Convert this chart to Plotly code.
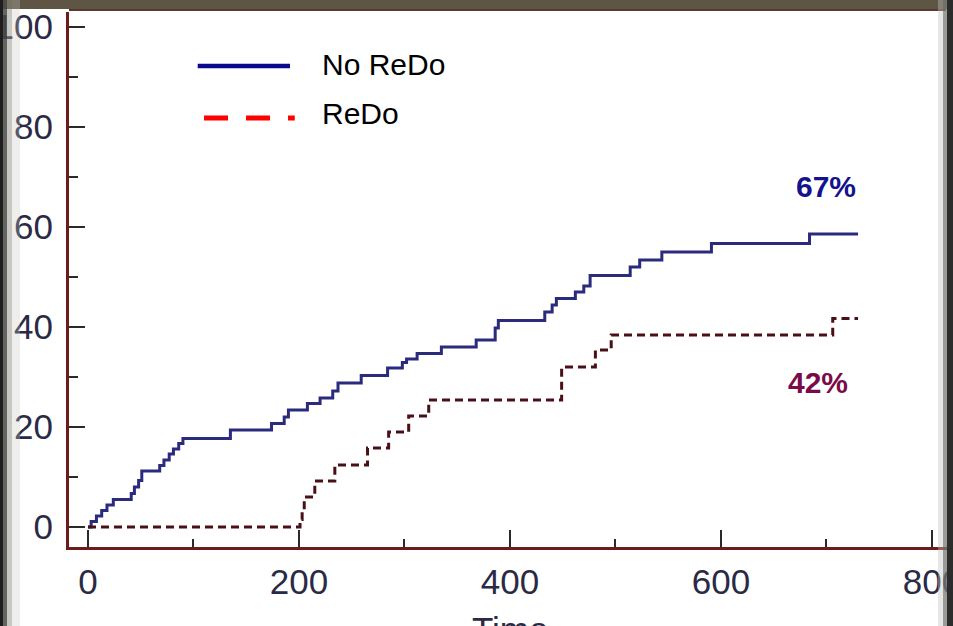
import plotly.graph_objects as go

# Cumulative incidence (%) over time, step data per group
no_redo_time = [0, 3, 8, 13, 18, 24, 41, 44, 48, 51, 68, 72, 77, 81, 86, 90, 135, 174,
                186, 190, 208, 220, 232, 237, 259, 284, 298, 302, 312, 335, 368, 386,
                389, 433, 440, 444, 462, 470, 476, 514, 523, 544, 591, 684, 730]
no_redo_pct = [0, 1.1, 2.2, 3.3, 4.4, 5.5, 6.7, 8.0, 9.3, 11.2, 12.3, 13.4, 14.6, 15.6,
               16.7, 17.7, 19.4, 20.7, 22.0, 23.4, 24.7, 25.8, 27.2, 28.8, 30.3, 31.8,
               32.9, 33.6, 34.7, 36.0, 37.4, 39.8, 41.3, 43.0, 44.4, 45.7, 47.0, 48.2,
               50.3, 52.0, 53.4, 55.0, 56.7, 58.6, 58.6]

redo_time = [0, 201, 203, 205, 215, 234, 265, 285, 304, 323, 449, 481, 496, 706, 730]
redo_pct = [0, 1.5, 3.2, 6.0, 9.2, 12.4, 15.8, 19.0, 22.2, 25.4, 32.0, 35.4, 38.4, 41.7, 41.7]

series_names = ["No ReDo", "ReDo"]
end_labels = ["67%", "42%"]
x_ticks = [0, 200, 400, 600, 800]
y_ticks = [0, 20, 40, 60, 80, 100]
x_title = "Time"

BLUE_LINE = "#2b2b7e"
RED_LINE = "#4a1018"
AXIS = "#6e1b1b"
TICK_TEXT = "#2a2a46"

fig = go.Figure()
fig.add_trace(go.Scatter(
    x=no_redo_time, y=no_redo_pct, mode="lines", line_shape="hv",
    line=dict(color=BLUE_LINE, width=3), name=series_names[0], showlegend=False))
fig.add_trace(go.Scatter(
    x=redo_time, y=redo_pct, mode="lines", line_shape="hv",
    line=dict(color=RED_LINE, width=3, dash="8px,5px"), name=series_names[1],
    showlegend=False))

# page geometry (pixels) used for the frame decorations
W, H = 953, 626
ML, MR, MT, MB = 69, 0, 12, 79
PW, PH = W - ML - MR, H - MT - MB


def px(x):
    return (x - ML) / PW


def py(y):
    return 1 - (y - MT) / PH


shapes = []
# hand-drawn legend keys
shapes.append(dict(type="line", xref="x", yref="y", x0=104, x1=191.5, y0=92.2, y1=92.2,
                   line=dict(color="#0a0a8c", width=4.5)))
shapes.append(dict(type="line", xref="x", yref="y", x0=110, x1=196, y0=81.8, y1=81.8,
                   line=dict(color="#ff0000", width=5, dash="24px,18px")))
# surrounding frame
shapes.append(dict(type="line", xref="paper", yref="paper", x0=0, x1=px(946),
                   y0=py(10), y1=py(10), line=dict(color="#5a3a30", width=2), layer="above"))
shapes.append(dict(type="rect", xref="paper", yref="paper", x0=px(0), x1=px(W),
                   y0=py(0), y1=py(9), fillcolor="#5e5545", line_width=0, layer="above"))
for x0, x1, col, op in [(0, 3, "#1e1e1e", 1.0), (3, 7, "#4a4a44", 0.85),
                        (7, 12, "#8d8d85", 0.5), (12, 20, "#c8c8c0", 0.3)]:
    shapes.append(dict(type="rect", xref="paper", yref="paper", x0=px(x0), x1=px(x1),
                       y0=py(H), y1=py(0), fillcolor=col, opacity=op, line_width=0,
                       layer="above"))
for x0, x1, col, op in [(938, 943, "#c0c0bc", 0.4), (943, 947, "#7a7a76", 0.75),
                        (947, 953, "#2c2c2c", 1.0)]:
    shapes.append(dict(type="rect", xref="paper", yref="paper", x0=px(x0), x1=px(x1),
                       y0=py(H), y1=py(0), fillcolor=col, opacity=op, line_width=0,
                       layer="above"))

tick_font = dict(family="Liberation Sans, Arial", size=35, color=TICK_TEXT)

annotations = [
    dict(x=220, y=92.6, xref="x", yref="y", text=series_names[0], showarrow=False,
         xanchor="left", yanchor="middle",
         font=dict(family="Liberation Sans, Arial", size=30, color="#000000")),
    dict(x=220, y=82.8, xref="x", yref="y", text=series_names[1], showarrow=False,
         xanchor="left", yanchor="middle",
         font=dict(family="Liberation Sans, Arial", size=30, color="#000000")),
    dict(x=699.5, y=68.2, xref="x", yref="y", text="<b>" + end_labels[0] + "</b>",
         showarrow=False, xanchor="center", yanchor="middle",
         font=dict(family="Liberation Sans, Arial", size=30, color="#14128c")),
    dict(x=692, y=29.0, xref="x", yref="y", text="<b>" + end_labels[1] + "</b>",
         showarrow=False, xanchor="center", yanchor="middle",
         font=dict(family="Liberation Sans, Arial", size=30, color="#7a0a48")),
    # axis title sits at the lower page edge
    dict(x=px(510), y=py(608), xref="paper", yref="paper", text=x_title,
         showarrow=False, xanchor="center", yanchor="top", font=tick_font),
]

fig.update_layout(
    width=W, height=H,
    margin=dict(l=ML, r=MR, t=MT, b=MB, pad=0, autoexpand=False),
    paper_bgcolor="#ffffff", plot_bgcolor="#ffffff",
    shapes=shapes, annotations=annotations,
    xaxis=dict(range=[-18, 820], tickvals=x_ticks, ticks="inside", ticklen=17,
               tickwidth=2, tickcolor="#2a2a2a", showline=True, linecolor=AXIS,
               linewidth=3, showgrid=False, zeroline=False, tickfont=tick_font,
               ticklabelstandoff=2, ticklabeloverflow="allow", automargin=False,
               minor=dict(tickvals=[100, 300, 500, 700], ticks="inside", ticklen=8,
                          tickwidth=2, tickcolor="#2a2a2a", showgrid=False)),
    yaxis=dict(range=[-4, 103], tickvals=y_ticks, ticks="inside", ticklen=16,
               tickwidth=2, tickcolor="#2a2a2a", showline=True, linecolor=AXIS,
               linewidth=3, showgrid=False, zeroline=False, tickfont=tick_font,
               ticklabelstandoff=6, ticklabeloverflow="allow", automargin=False,
               minor=dict(tickvals=[10, 30, 50, 70, 90], ticks="inside", ticklen=9,
                          tickwidth=2, tickcolor="#2a2a2a", showgrid=False)),
)

fig.write_html("out.html")
